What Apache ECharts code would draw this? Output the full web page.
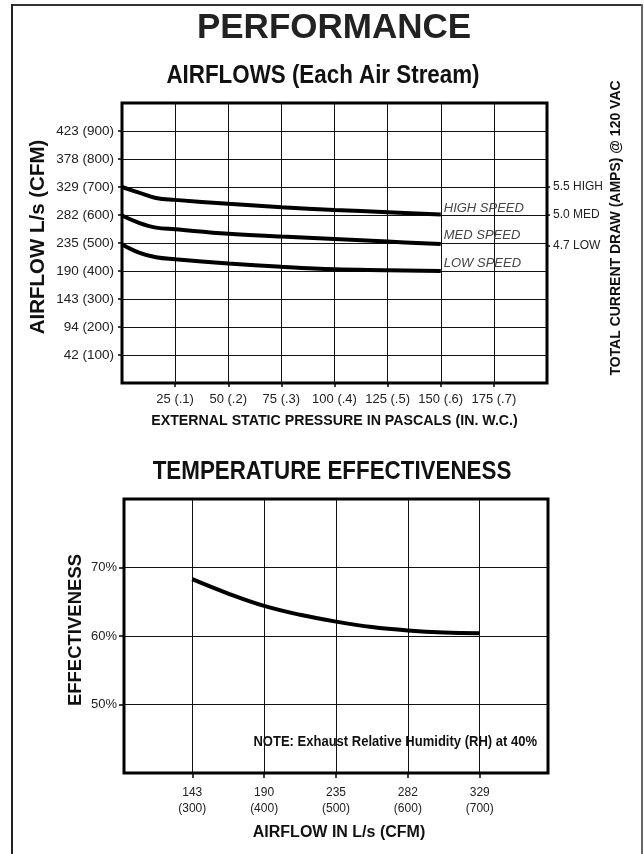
<!DOCTYPE html>
<html><head><meta charset="utf-8">
<script src="https://cdn.jsdelivr.net/npm/echarts@6/dist/echarts.min.js"></script>
<style>html,body{margin:0;padding:0;background:#fff}#c{width:644px;height:854px}</style>
</head><body><div id="c"></div>
<script>
// ---- Airflow chart data ----
const pressure = [0, 8, 16, 25, 50, 75, 100, 125, 150];
const highSpeed = [700, 680, 661, 654, 640, 628, 618, 610, 602];
const medSpeed = [598, 572, 555, 549, 533, 523, 514, 505, 496];
const lowSpeed = [495, 466, 449, 442, 427, 415, 406, 403, 400];
const pressureTicks = [25, 50, 75, 100, 125, 150, 175];
const inwcLabels = ['.1', '.2', '.3', '.4', '.5', '.6', '.7'];
const cfmTicks = [100, 200, 300, 400, 500, 600, 700, 800, 900];
const lsLabels = ['42', '94', '143', '190', '235', '282', '329', '378', '423'];
const ampTicks = [700, 600, 490];
const ampLabels = ['5.5 HIGH', '5.0 MED', '4.7 LOW'];
// ---- Effectiveness chart data ----
const effCfm = [300, 350, 400, 450, 500, 550, 600, 650, 700];
const effectiveness = [68.3, 66.2, 64.4, 63.1, 62.1, 61.3, 60.8, 60.5, 60.4];
const effTicks = [300, 400, 500, 600, 700];
const effLsLabels = ['143', '190', '235', '282', '329'];
const effPctTicks = [50, 60, 70];

const F = '"Liberation Sans", Arial, Helvetica, sans-serif';

const chart = echarts.init(document.getElementById('c'), null, {renderer: 'canvas'});
const pts = (xs, ys) => xs.map((x, i) => [x, ys[i]]);
const endLbl = (dy) => ({
  show: true, formatter: '{a}', distance: 3, offset: [0, dy],
  fontStyle: 'italic', fontSize: 13, color: '#444', fontFamily: F, fontWeight: 'normal'
});
const lineSeries = (name, xs, ys, xi, yi, dy) => ({
  name, type: 'line', xAxisIndex: xi, yAxisIndex: yi, data: pts(xs, ys),
  smooth: 0.4, symbol: 'none', lineStyle: {color: '#000', width: 4},
  endLabel: dy === null ? {show: false} : endLbl(dy), z: 5
});
const grid = {show: true, borderWidth: 3, borderColor: '#000', backgroundColor: 'transparent'};
const split = {show: true, lineStyle: {color: '#111', width: 1}};
const tick = (vals, len) => ({show: true, customValues: vals, length: len, lineStyle: {color: '#000', width: 1.5}});
const narrowText = (text, x, y, size, sx, align) => ({
  type: 'text', x, y, scaleX: sx, z: 10,
  style: {text, fill: '#111', font: 'bold ' + size + 'px ' + F, align, verticalAlign: 'middle'}
});

chart.setOption({
  animation: false,
  backgroundColor: '#fff',
  title: [
    {text: 'PERFORMANCE', left: 334, top: 28, textAlign: 'center', textVerticalAlign: 'middle', padding: 0,
     textStyle: {fontFamily: F, fontWeight: 'bold', fontSize: 35, color: '#222'}}
  ],
  grid: [
    Object.assign({left: 122, right: 97, top: 103, bottom: 471}, grid),
    Object.assign({left: 124, right: 96, top: 499, bottom: 81}, grid)
  ],
  xAxis: [
    {gridIndex: 0, type: 'value', min: 0, max: 200, interval: 25,
     axisLine: {show: false}, axisTick: tick(pressureTicks, 4), splitLine: split,
     axisLabel: {customValues: pressureTicks, margin: 10, fontSize: 13, color: '#222', fontFamily: F,
       formatter: v => { const i = pressureTicks.indexOf(v); return i < 0 ? '' : v + ' (' + inwcLabels[i] + ')'; }},
     name: 'EXTERNAL STATIC PRESSURE IN PASCALS (IN. W.C.)', nameLocation: 'middle', nameGap: 31, nameMoveOverlap: false,
     nameTextStyle: {fontFamily: F, fontWeight: 'bold', fontSize: 14.2, color: '#111'}},
    {gridIndex: 1, type: 'value', min: 205, max: 795,
     axisLine: {show: false}, axisTick: tick(effTicks, 5), splitLine: split,
     axisLabel: {customValues: effTicks, margin: 12, fontSize: 12, lineHeight: 16, color: '#222', fontFamily: F,
       formatter: v => { const i = effTicks.indexOf(v); return i < 0 ? '' : effLsLabels[i] + '\n(' + v + ')'; }},
     name: 'AIRFLOW IN L/s (CFM)', nameLocation: 'middle', nameGap: 52, nameMoveOverlap: false,
     nameTextStyle: {fontFamily: F, fontWeight: 'bold', fontSize: 16, color: '#111', padding: [0, 0, 0, 6]}}
  ],
  yAxis: [
    {gridIndex: 0, type: 'value', min: 0, max: 1000, interval: 100,
     axisLine: {show: false}, axisTick: tick(cfmTicks, 4), splitLine: split,
     axisLabel: {customValues: cfmTicks, margin: 8, fontSize: 13.5, color: '#222', fontFamily: F,
       formatter: v => { const i = cfmTicks.indexOf(v); return i < 0 ? '' : lsLabels[i] + ' (' + v + ')'; }},
     name: 'AIRFLOW L/s (CFM)', nameLocation: 'middle', nameRotate: 90, nameGap: 73, nameMoveOverlap: false,
     nameTextStyle: {fontFamily: F, fontWeight: 'bold', fontSize: 20.5, color: '#111', padding: [0, 0, 0, 12]}},
    {gridIndex: 0, type: 'value', position: 'right', min: 0, max: 1000,
     axisLine: {show: false}, axisTick: tick(ampTicks, 3), splitLine: {show: false},
     axisLabel: {customValues: ampTicks, margin: 6, fontSize: 12, color: '#222', fontFamily: F,
       formatter: v => { const i = ampTicks.indexOf(v); return i < 0 ? '' : ampLabels[i]; }},
     name: 'TOTAL CURRENT DRAW (AMPS) @ 120 VAC', nameLocation: 'middle', nameRotate: 90, nameGap: 62, nameMoveOverlap: false,
     nameTextStyle: {fontFamily: F, fontWeight: 'bold', fontSize: 14, color: '#111', padding: [0, 0, 0, 30]}},
    {gridIndex: 1, type: 'value', min: 40, max: 80, interval: 10,
     axisLine: {show: false}, axisTick: tick(effPctTicks, 5), splitLine: split,
     axisLabel: {customValues: effPctTicks, margin: 7, fontSize: 13, color: '#222', fontFamily: F,
       formatter: v => v + '%'},
     name: 'EFFECTIVENESS', nameLocation: 'middle', nameRotate: 90, nameGap: 39, nameMoveOverlap: false,
     nameTextStyle: {fontFamily: F, fontWeight: 'bold', fontSize: 18.5, color: '#111', padding: [0, 0, 0, 12]}}
  ],
  series: [
    lineSeries('HIGH SPEED', pressure, highSpeed, 0, 0, -6),
    lineSeries('MED SPEED', pressure, medSpeed, 0, 0, -9),
    lineSeries('LOW SPEED', pressure, lowSpeed, 0, 0, -8),
    lineSeries('Effectiveness', effCfm, effectiveness, 1, 2, null)
  ],
  graphic: [
    narrowText('AIRFLOWS (Each Air Stream)', 323, 76, 26, 0.86, 'center'),
    narrowText('TEMPERATURE EFFECTIVENESS', 332, 472, 26, 0.86, 'center'),
    narrowText('NOTE: Exhaust Relative Humidity (RH) at 40%', 537, 742, 14, 0.93, 'right'),
    {type: 'line', shape: {x1: 11, y1: 5, x2: 643, y2: 5}, style: {stroke: '#333', lineWidth: 2}},
    {type: 'line', shape: {x1: 12, y1: 4, x2: 12, y2: 854}, style: {stroke: '#222', lineWidth: 2}},
    {type: 'line', shape: {x1: 642, y1: 4, x2: 642, y2: 854}, style: {stroke: '#666', lineWidth: 2}}
  ]
});
</script></body></html>
